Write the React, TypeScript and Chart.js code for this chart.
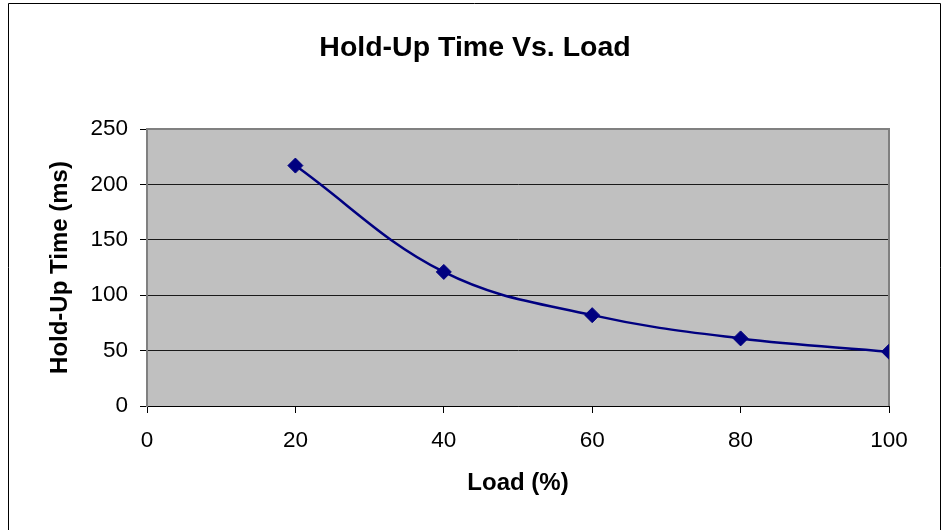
import React, { useEffect, useRef } from "react";
import { Chart, registerables } from "chart.js";

Chart.register(...registerables);

const titleText = "Hold-Up Time Vs. Load";
const xAxisTitle = "Load (%)";
const yAxisTitle = "Hold-Up Time (ms)";
const loads = [20, 40, 60, 80, 100];
const holdUpTimes = [217, 121, 82, 61, 49];
const xRange = [0, 100, 20];
const yRange = [0, 250, 50];

const FONT = "'Liberation Sans', Arial, sans-serif";

const framePlugin = {
  id: "frame",
  beforeDraw(chart: any) {
    const { ctx, chartArea, width, height } = chart;
    ctx.save();
    ctx.fillStyle = "#ffffff";
    ctx.fillRect(0, 0, width, height);
    ctx.fillStyle = "#C0C0C0";
    ctx.fillRect(chartArea.left, chartArea.top, chartArea.right - chartArea.left, chartArea.bottom - chartArea.top);
    ctx.restore();
  },
  beforeDatasetsDraw(chart: any) {
    const { ctx, chartArea } = chart;
    ctx.save();
    ctx.strokeStyle = "#808080";
    ctx.lineWidth = 2;
    ctx.beginPath();
    ctx.moveTo(chartArea.left, chartArea.top);
    ctx.lineTo(chartArea.right, chartArea.top);
    ctx.lineTo(chartArea.right, chartArea.bottom);
    ctx.stroke();
    ctx.restore();
  },
  afterDraw(chart: any) {
    const { ctx } = chart;
    ctx.save();
    ctx.strokeStyle = "#000000";
    ctx.lineWidth = 1;
    ctx.beginPath();
    ctx.moveTo(8.5, 600);
    ctx.lineTo(8.5, 3.5);
    ctx.lineTo(940.5, 3.5);
    ctx.lineTo(940.5, 600);
    ctx.stroke();
    ctx.restore();
  },
};

export default function App() {
  const ref = useRef<HTMLCanvasElement | null>(null);

  useEffect(() => {
    if (!ref.current) return;
    const chart = new Chart(ref.current, {
      type: "line",
      data: {
        datasets: [
          {
            label: yAxisTitle,
            data: loads.map((x, i) => ({ x, y: holdUpTimes[i] })),
            borderColor: "#000080",
            backgroundColor: "#000080",
            borderWidth: 2.5,
            tension: 0.38,
            pointStyle: "rectRot",
            pointRadius: 7.5,
            pointBorderWidth: 1,
            pointBackgroundColor: "#000080",
            pointBorderColor: "#000080",
            fill: false,
          },
        ],
      },
      options: {
        responsive: false,
        animation: false,
        events: [],
        layout: { padding: { left: 8, right: 0, top: 0, bottom: 0 } },
        plugins: {
          legend: { display: false },
          tooltip: { enabled: false },
          title: {
            display: true,
            text: titleText,
            color: "#000",
            font: { family: FONT, size: 28.5, weight: "bold" },
            padding: { top: 31, bottom: 63.8 },
          },
        },
        scales: {
          x: {
            type: "linear",
            min: xRange[0],
            max: xRange[1],
            afterFit(scale: any) {
              scale.height = 124;
            },
            ticks: {
              stepSize: xRange[2],
              color: "#000",
              font: { family: FONT, size: 22.5 },
              padding: 14,
              maxRotation: 0,
            },
            grid: {
              drawOnChartArea: false,
              drawTicks: true,
              tickLength: 7,
              tickColor: "#000",
              color: "#000",
            },
            border: { display: true, color: "#000", width: 1 },
            title: {
              display: true,
              text: xAxisTitle,
              color: "#000",
              font: { family: FONT, size: 24, weight: "bold" },
              padding: { top: 0, bottom: 32 },
            },
          },
          y: {
            type: "linear",
            position: "left",
            min: yRange[0],
            max: yRange[1],
            afterFit(scale: any) {
              scale.width = 139;
            },
            ticks: {
              stepSize: yRange[2],
              color: "#000",
              font: { family: FONT, size: 22.5 },
              padding: 12,
            },
            grid: {
              color: "#1a1a1a",
              lineWidth: 1,
              drawTicks: true,
              tickLength: 7,
              tickColor: "#000",
            },
            border: { display: true, color: "#808080", width: 2 },
            title: {
              display: true,
              text: yAxisTitle,
              color: "#000",
              font: { family: FONT, size: 24, weight: "bold" },
              padding: { top: 38, bottom: 0 },
            },
          },
          y2: {
            type: "linear",
            position: "right",
            display: true,
            afterFit(scale: any) {
              scale.width = 53;
            },
            ticks: { display: false },
            grid: { display: false, drawTicks: false },
            border: { display: false },
          },
        },
      },
      plugins: [framePlugin],
    });
    return () => chart.destroy();
  }, []);

  return (
    <div style={{ position: "absolute", left: 0, top: 0, width: 942, height: 530, background: "#fff" }}>
      <canvas ref={ref} width={942} height={530} style={{ display: "block" }} />
    </div>
  );
}
